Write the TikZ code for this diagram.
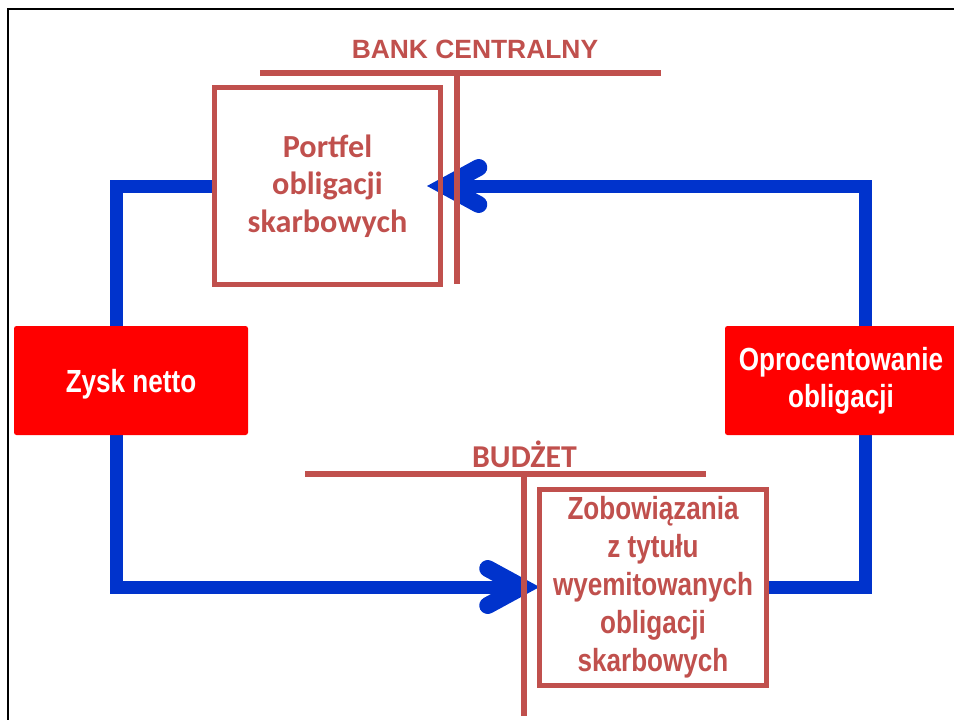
\documentclass[tikz,border=0pt]{standalone}
\usepackage{fontspec}
\setmainfont{Liberation Sans}
\newfontfamily\narrowf{Liberation Sans}[FakeStretch=0.815]
\newfontfamily\calib{Carlito}
\usetikzlibrary{arrows.meta}
\definecolor{txtred}{RGB}{192,80,77}
\definecolor{flowblue}{RGB}{0,51,204}
\definecolor{boxred}{RGB}{255,0,0}
\pgfdeclarelayer{bg}
\pgfsetlayers{bg,main}
\begin{document}
\begin{tikzpicture}[x=1pt,y=-1pt,
  every node/.style={outer sep=0pt, inner sep=0pt},
  bankbox/.style={draw=txtred, line width=5pt, text=txtred, align=center},
  redbox/.style={fill=boxred, rounded corners=2.5pt, text=white, align=center,
    minimum width=233pt, minimum height=109pt,
    font=\narrowf\bfseries\fontsize{32}{37}\selectfont},
  tline/.style={draw=txtred, line width=5.5pt},
  flow/.style={draw=flowblue, line width=13pt, line join=miter},
  flowtip/.style={-{Straight Barb[length=34pt, width=37pt, line width=17pt, line cap=round, line join=miter]}},
  heading/.style={text=txtred, anchor=base}
]
\useasboundingbox (0,0) rectangle (954,720);
% frame
\draw[line width=2.5pt, black] (8,740) -- (8,9) -- (970,9);

% headings and T-lines
\node[heading, font=\bfseries\fontsize{26.4}{31}\selectfont] (bankt) at (475,58) {BANK CENTRALNY};
\coordinate (bt1) at (260,73); \coordinate (bt2) at (661,73);
\coordinate (bv1) at (457,73); \coordinate (bv2) at (457,284);
\draw[tline] (bt1) -- (bt2);
\draw[tline] (bv1) -- (bv2);

\node[heading, font=\calib\bfseries\fontsize{31.8}{36}\selectfont] (budt) at (524.5,467) {BUDŻET};
\coordinate (ut1) at (305,474); \coordinate (ut2) at (706,474);
\coordinate (uv1) at (524,474); \coordinate (uv2) at (524,716);
\draw[tline] (ut1) -- (ut2);
\draw[tline] (uv1) -- (uv2);

% boxes
\node[bankbox, minimum width=226pt, minimum height=197pt,
  font=\calib\bfseries\fontsize{32.2}{37.5}\selectfont] (P) at (327.5,186)
  {Portfel\\obligacji\\skarbowych};
\node[bankbox, minimum width=227pt, minimum height=196pt,
  font=\narrowf\bfseries\fontsize{32}{38}\selectfont] (B) at (653,587)
  {Zobowiązania\\z tytułu\\wyemitowanych\\obligacji\\skarbowych};
\node[redbox, minimum width=234pt, text height=23pt, text depth=0pt] (Z) at (131,380.5) {Zysk netto};
\node[redbox, minimum width=232pt] (O) at (841,380.5) {Oprocentowanie\\obligacji};

% flows
\coordinate (c1) at (116,186);
\coordinate (c2) at (116,587);
\coordinate (c3) at (865,186);
\coordinate (c4) at (865,587);
\begin{pgfonlayer}{bg}
\draw[flow, flowtip] (P.west) -- (c1) -- (c2) -- (B.west);
\draw[flow, flowtip] (B.east) -- (c4) -- (c3) -- ([xshift=-13.5pt]P.east);
\end{pgfonlayer}
\end{tikzpicture}
\end{document}
